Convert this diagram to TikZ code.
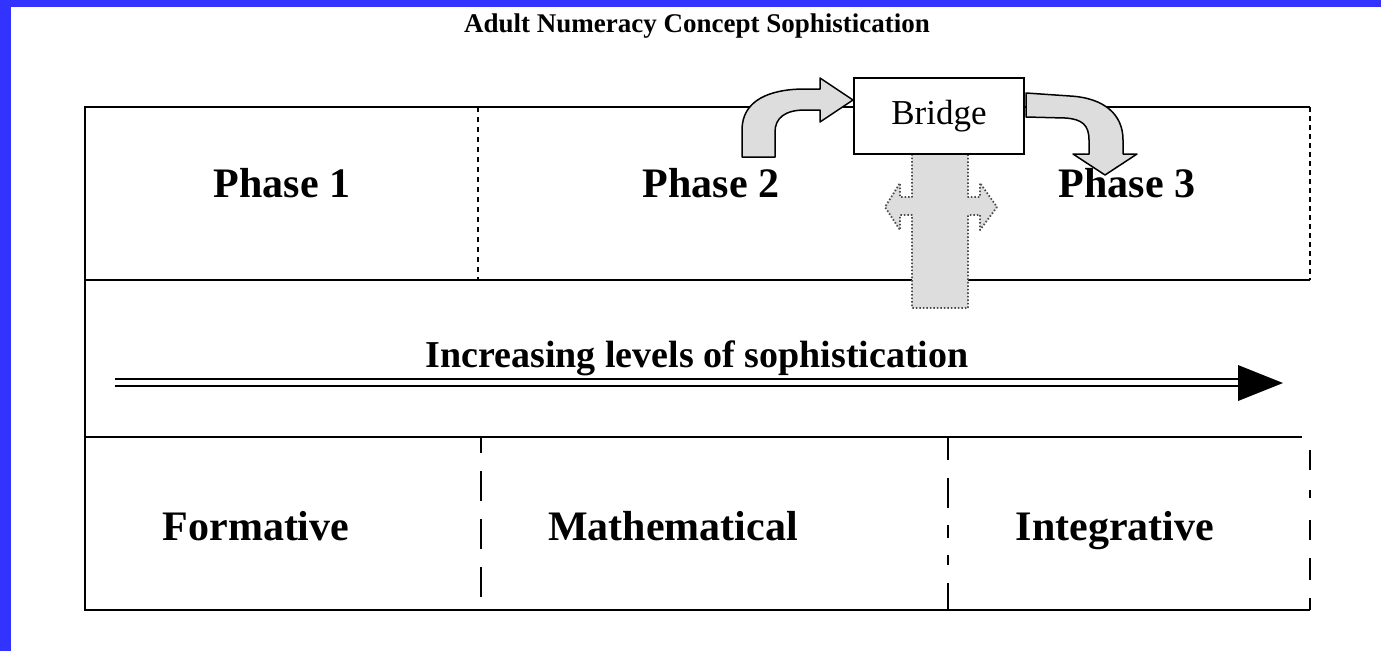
\documentclass[tikz,border=0pt]{standalone}
\usepackage{fontspec}
\setmainfont{Liberation Serif}
\usetikzlibrary{arrows,positioning}
\definecolor{frameblue}{RGB}{51,51,255}
\definecolor{arrowgray}{RGB}{221,221,221}

\begin{document}
\begin{tikzpicture}[x=1pt,y=-1pt,line width=2pt]
  \tikzstyle{rule}=[draw=black,line width=2pt]
  \tikzstyle{cell}=[anchor=base,inner sep=0pt,font=\fontsize{42}{48}\selectfont\bfseries]
  \tikzstyle{blockarrow}=[fill=arrowgray,draw=black,line width=1.5pt,line join=round]

  % frame
  \fill[frameblue] (0,0) rectangle (1381,651);
  \fill[white] (11,7) rectangle (1381,651);
  \useasboundingbox (0,0) rectangle (1381,651);

  % table
  \draw[rule] (1310,107) -- (85,107) -- (85,610) -- (1310,610);
  \draw[rule] (85,280) -- (1310,280);
  \draw[rule] (85,437) -- (1302,437);
  \draw[rule,dash pattern=on 5pt off 5pt] (478,107) -- (478,280);
  \draw[rule,dash pattern=on 5pt off 4pt] (1310,107) -- (1310,280);
  \draw[rule,dash pattern=on 30pt off 18pt,dash phase=14pt] (481,437) -- (481,610);
  \draw[rule,dash pattern=on 23pt off 18pt on 30pt off 17pt on 13pt off 17pt on 10pt off 18pt on 40pt off 10pt] (948,437) -- (948,610);
  \draw[rule,dash pattern=on 12pt off 18pt on 22pt off 18pt on 20pt off 22pt on 8pt off 20pt on 20pt off 20pt] (1310,610) -- (1310,437);

  % sophistication arrow
  \coordinate (S) at (115,382.5);
  \coordinate (E) at (1240,382.5);
  \coordinate (tip) at (1283,383);
  \draw[line width=2pt,double=white,double distance=4.5pt] (S) -- (E);
  \fill (1238,365) -- (tip) -- (1238,401) -- cycle;

  % bridge arrows
  \path[blockarrow,draw=black!70,dotted,line width=1.8pt]
    (912,154) -- (912,197) -- (900,197) -- (900,183) -- (885,207) -- (900,230)
    -- (900,215) -- (912,215) -- (912,308) -- (968,308) -- (968,215) -- (980,215)
    -- (980,230) -- (997,207) -- (980,183) -- (980,197) -- (968,197) -- (968,154) -- cycle;
  \path[blockarrow]
    (742,157) -- (742,130) .. controls (742,100) and (770,89) .. (805,89)
    -- (820,89) -- (820,78) -- (853,100) -- (820,122) -- (820,110) -- (805,110)
    .. controls (785,110) and (775,118) .. (775,132) -- (775,157) -- cycle;
  \path[blockarrow]
    (1026,93) -- (1070,96) .. controls (1105,98) and (1123,115) .. (1123,140)
    -- (1123,154) -- (1137,154) -- (1105,175) -- (1073,154) -- (1089,154)
    -- (1089,140) .. controls (1089,125) and (1082,119) .. (1065,118) -- (1026,117) -- cycle;

  \node[draw,fill=white,rule,minimum width=170pt,minimum height=76pt,
        font=\fontsize{35}{40}\selectfont] (BR) at (939,116) {Bridge};

  % labels
  \node[anchor=base,font=\fontsize{27}{32}\selectfont\bfseries] (T) at (697,32)
        {Adult Numeracy Concept Sophistication};
  \node[cell] (P1) at (282,197) {Phase 1};
  \node[cell] (P2) at (711,197) {Phase 2};
  \node[cell] (P3) at (1127,197) {Phase 3};
  \node[cell,font=\fontsize{38}{44}\selectfont\bfseries] (INC) at (697,367)
        {Increasing levels of sophistication};
  \node[cell] (F) at (256,540) {Formative};
  \node[cell] (M) at (673,540) {Mathematical};
  \node[cell] (I) at (1115,540) {Integrative};
\end{tikzpicture}
\end{document}
